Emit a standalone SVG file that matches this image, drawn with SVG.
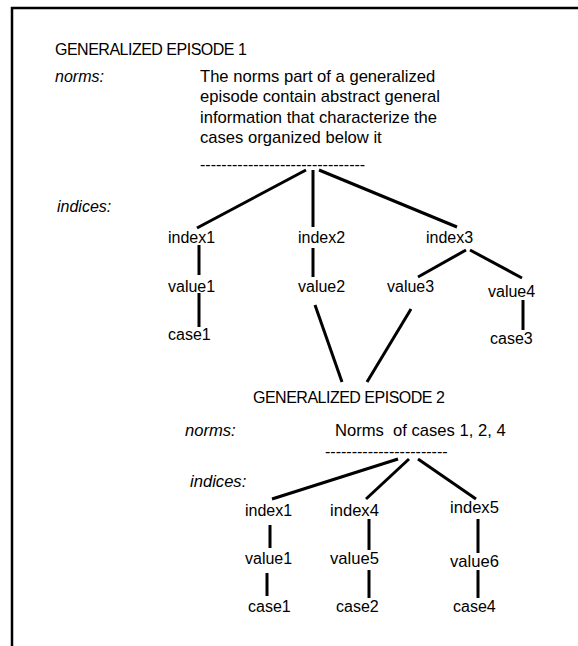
<svg xmlns="http://www.w3.org/2000/svg" width="578" height="646" viewBox="0 0 578 646">
<style>
text{font-family:"Liberation Sans",Arial,sans-serif;font-size:16px;fill:#000}
.it{font-style:italic}
.big{font-size:16.6px}
.title{letter-spacing:-0.5px}
.c line{stroke:#000;stroke-width:3}
.frame{stroke:#000;stroke-width:2.5;fill:none}
</style>
<rect width="578" height="646" fill="#fff"/>
<path class="frame" d="M12,646 V8 H578"/>
<g id="ep1">
<text class="title" x="55" y="55">GENERALIZED EPISODE 1</text>
<text class="it" x="55" y="82">norms:</text>
<text class="big" x="200" y="82">The norms part of a generalized</text>
<text class="big" x="200" y="102">episode contain abstract general</text>
<text class="big" x="200" y="123">information that characterize the</text>
<text class="big" x="200" y="143">cases organized below it</text>
<text x="200" y="170">-------------------------------</text>
<text class="it" x="57" y="212">indices:</text>
</g>
<g id="index1a"><text x="168" y="243">index1</text></g>
<g id="index2"><text x="298" y="243">index2</text></g>
<g id="index3"><text x="426" y="243">index3</text></g>
<g id="value1a"><text x="168" y="292">value1</text></g>
<g id="value2"><text x="298" y="292">value2</text></g>
<g id="value3"><text x="387" y="292">value3</text></g>
<g id="value4"><text x="488" y="297">value4</text></g>
<g id="case1a"><text x="168" y="340">case1</text></g>
<g id="case3"><text x="490" y="344">case3</text></g>
<g id="ep2">
<text class="title" x="253" y="403">GENERALIZED EPISODE 2</text>
<text class="it big" x="185" y="436">norms:</text>
<text class="big" x="335" y="436" xml:space="preserve" style="white-space:pre">Norms  of cases 1, 2, 4</text>
<text x="325" y="457">-----------------------</text>
<text class="it big" x="190" y="487">indices:</text>
</g>
<g id="index1b"><text x="245" y="516">index1</text></g>
<g id="index4"><text class="big" x="330" y="516">index4</text></g>
<g id="index5"><text class="big" x="450" y="513">index5</text></g>
<g id="value1b"><text x="245" y="564">value1</text></g>
<g id="value5"><text class="big" x="330" y="564">value5</text></g>
<g id="value6"><text class="big" x="450" y="567">value6</text></g>
<g id="case1b"><text x="248" y="612">case1</text></g>
<g id="case2"><text x="336" y="612">case2</text></g>
<g id="case4"><text x="453" y="612">case4</text></g>
<g id="connectors" class="c">
<line x1="306" y1="170" x2="197" y2="228"/>
<line x1="313" y1="170" x2="313" y2="227"/>
<line x1="319" y1="170" x2="457" y2="227"/>
<line x1="199" y1="245" x2="199" y2="275"/>
<line x1="199" y1="293" x2="199" y2="327"/>
<line x1="313" y1="248" x2="313" y2="277"/>
<line x1="466" y1="250" x2="418" y2="277"/>
<line x1="470" y1="250" x2="522" y2="278"/>
<line x1="523" y1="300" x2="523" y2="330"/>
<line x1="315" y1="305" x2="342" y2="382"/>
<line x1="411" y1="309" x2="367" y2="382"/>
<line x1="398" y1="459" x2="272" y2="499"/>
<line x1="409" y1="459" x2="366" y2="499"/>
<line x1="418" y1="459" x2="476" y2="499"/>
<line x1="270" y1="525" x2="270" y2="548"/>
<line x1="267" y1="573" x2="267" y2="596"/>
<line x1="369" y1="519" x2="369" y2="550"/>
<line x1="369" y1="570" x2="369" y2="598"/>
<line x1="478" y1="519" x2="478" y2="553"/>
<line x1="478" y1="570" x2="478" y2="598"/>
</g>
</svg>
